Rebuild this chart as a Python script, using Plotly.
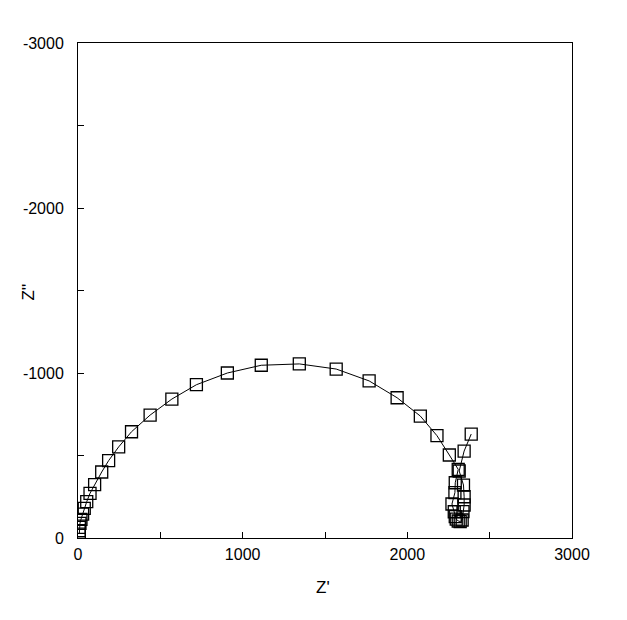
import plotly.graph_objects as go

z_real = [8, 8, 8, 12, 18, 28, 38, 53, 73, 101, 144, 186, 247, 325, 438, 570, 719, 907,
          1113, 1344, 1568, 1768, 1938, 2079, 2180, 2255, 2309, 2291, 2289, 2271, 2285,
          2291, 2297, 2309, 2321, 2333, 2338, 2345, 2345, 2341, 2315, 2345, 2388]
z_imag = [-24, -44, -65, -89, -113, -145, -180, -220, -271, -323, -400, -469, -552, -644,
          -745, -842, -929, -1000, -1047, -1055, -1024, -952, -850, -739, -620, -503, -416,
          -335, -275, -206, -159, -129, -115, -103, -100, -109, -160, -200, -250, -321,
          -406, -527, -630]

x_ticks = [0, 1000, 2000, 3000]
y_ticks = [0, -1000, -2000, -3000]

family = "Liberation Sans, Arial, sans-serif"
font = dict(family=family, size=16, color="black")

fig = go.Figure()
fig.add_trace(go.Scatter(
    x=z_real, y=z_imag, mode="lines+markers",
    line=dict(color="black", width=1),
    marker=dict(symbol="square-open", size=12, color="black", line=dict(width=1.3)),
    showlegend=False,
))

axis_common = dict(
    showline=True, linecolor="black", linewidth=1, mirror=True,
    ticks="inside", ticklen=6, tickwidth=1, tickcolor="black",
    showgrid=False, zeroline=False, tickfont=font,
    minor=dict(ticks="inside", ticklen=6, tickwidth=1, tickcolor="black", dtick=500, showgrid=False),
)

fig.update_xaxes(range=[0, 3000], tickvals=x_ticks, ticktext=[str(v) for v in x_ticks],
                 ticklabelstandoff=2, **axis_common)
fig.update_yaxes(range=[0, -3000], tickvals=y_ticks, ticktext=[str(v) for v in y_ticks],
                 ticklabelstandoff=10, **axis_common)

fig.add_annotation(text="Z'", xref="paper", yref="paper", x=0.496, y=-0.099,
                   xanchor="center", yanchor="middle", showarrow=False,
                   font=dict(family=family, size=17, color="black"))
fig.add_annotation(text="Z''", xref="paper", yref="paper", x=-0.100, y=0.497,
                   xanchor="center", yanchor="middle", showarrow=False, textangle=-90,
                   font=dict(family=family, size=17, color="black"))

fig.update_layout(
    width=627, height=620,
    margin=dict(l=70, r=63, t=35, b=90, pad=0),
    paper_bgcolor="white", plot_bgcolor="white",
    font=font,
)

fig.write_html("out.html")
